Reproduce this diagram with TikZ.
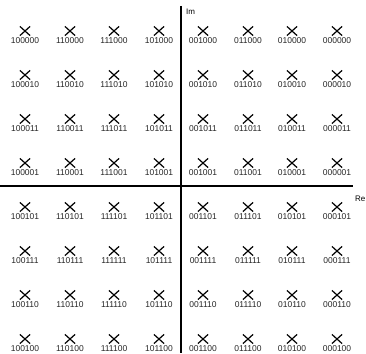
\documentclass[tikz,border=0pt]{standalone}
\usepackage{fontspec}
\setmainfont{Liberation Sans}
\usetikzlibrary{shapes.misc}
\begin{document}
\begin{tikzpicture}[x=1pt,y=-1pt,
  pt/.style={cross out,draw,line width=1.2pt,minimum width=9pt,minimum height=8pt,inner sep=0pt},
  lab/.style={font=\fontsize{8.5}{9}\selectfont,inner sep=0pt,text=black!85},
  axis/.style={line width=1.4pt},
  axlab/.style={font=\fontsize{8}{9}\selectfont,inner sep=0pt,anchor=west}]
\useasboundingbox (0,0) rectangle (366,353);
\coordinate (ytop) at (181,6);
\coordinate (ybot) at (181,353);
\coordinate (xl) at (0,186);
\coordinate (xr) at (353,186);
\draw[axis] (ytop) -- (ybot);
\draw[axis] (xl) -- (xr);
\node[axlab] (im) at (186,12) {Im};
\node[axlab] (re) at (355,199) {Re};
\foreach \cx/\cb [count=\i] in {25/100,70/110,114/111,159/101,203/001,248/011,292/010,337/000}{
  \foreach \ry/\rb [count=\j] in {31/000,75/010,119/011,163/001,207/101,251/111,295/110,339/100}{
    \node[pt] (p-\i-\j) at (\cx,\ry) {};
    \node[lab,anchor=north] (l-\i-\j) at ([yshift=-1.5pt]p-\i-\j.south) {\cb\rb};
  }
}
\end{tikzpicture}
\end{document}
